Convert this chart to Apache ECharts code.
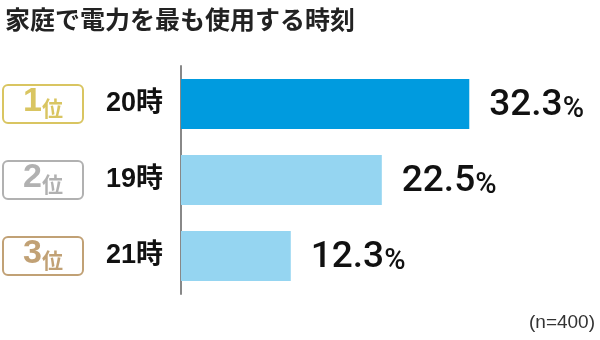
<!DOCTYPE html>
<html><head><meta charset="utf-8">
<script src="https://cdn.jsdelivr.net/npm/echarts@6/dist/echarts.min.js"></script>
<style>html,body{margin:0;padding:0;background:#fff}#c{width:600px;height:340px}</style>
</head><body><div id="c"></div>
<script>
var titleText = '家庭で電力を最も使用する時刻';
var ranks = ['1', '2', '3'];
var categories = ['20時', '19時', '21時'];
var values = [32.3, 22.5, 12.3];
var note = '(n=400)';

var barColors = ['#009bdf', '#95d5f1', '#95d5f1'];
var rankColors = ['#cfb63a', '#9e9e9e', '#b28a52'];

var chart = echarts.init(document.getElementById('c'));
chart.setOption({
  animation: false,
  backgroundColor: '#fff',
  title: [{
    text: titleText, left: 0, top: 2,
    textStyle: { fontFamily: 'Noto Sans CJK JP', fontSize: 25, fontWeight: 'bold', color: '#222' }
  }, {
    text: note, right: 0, bottom: 3,
    textStyle: { fontFamily: 'Liberation Sans', fontSize: 19, fontWeight: 'normal', color: '#333' }
  }],
  grid: { left: 181, top: 66, width: 357, height: 228, containLabel: false },
  xAxis: { type: 'value', min: 0, max: 40, show: false },
  yAxis: {
    type: 'category', data: categories, inverse: true,
    axisLine: { show: true, lineStyle: { color: '#888', width: 2 } },
    axisTick: { show: false },
    axisLabel: {
      margin: 18,
      fontFamily: 'Liberation Sans, Noto Sans CJK JP',
      fontWeight: 'bold', fontSize: 27, color: '#111'
    }
  },
  series: [{
    type: 'bar', barWidth: 50, z: 1,
    data: values.map(function (v, i) { return { value: v, itemStyle: { color: barColors[i] } }; }),
    label: {
      show: true, position: 'right', distance: 20,
      formatter: function (p) { return '{v|' + p.value + '}{p|%}'; },
      rich: {
        v: { fontFamily: 'Roboto', fontWeight: 500, fontSize: 37, color: '#111', verticalAlign: 'bottom', lineHeight: 40 },
        p: { fontFamily: 'Roboto', fontWeight: 500, fontSize: 29, color: '#111', verticalAlign: 'bottom', lineHeight: 36 }
      }
    }
  }, {
    type: 'scatter', symbolSize: 0, silent: true,
    data: categories.map(function (c, i) {
      return {
        value: [0, c],
        label: {
          borderColor: rankColors[i],
          rich: {
            n: { fontFamily: 'Liberation Sans', fontWeight: 'bold', fontSize: 34, color: rankColors[i], verticalAlign: 'bottom', lineHeight: 34 },
            k: { fontFamily: 'Noto Sans CJK JP', fontWeight: 'bold', fontSize: 21, color: rankColors[i], verticalAlign: 'bottom', lineHeight: 28 }
          }
        }
      };
    }),
    label: {
      show: true, position: 'inside', offset: [-138, 0],
      align: 'center', verticalAlign: 'middle',
      width: 80, height: 38, borderWidth: 2, borderRadius: 5,
      formatter: function (p) { return '{n|' + ranks[p.dataIndex] + '}{k|位}'; }
    }
  }]
});
</script></body></html>
